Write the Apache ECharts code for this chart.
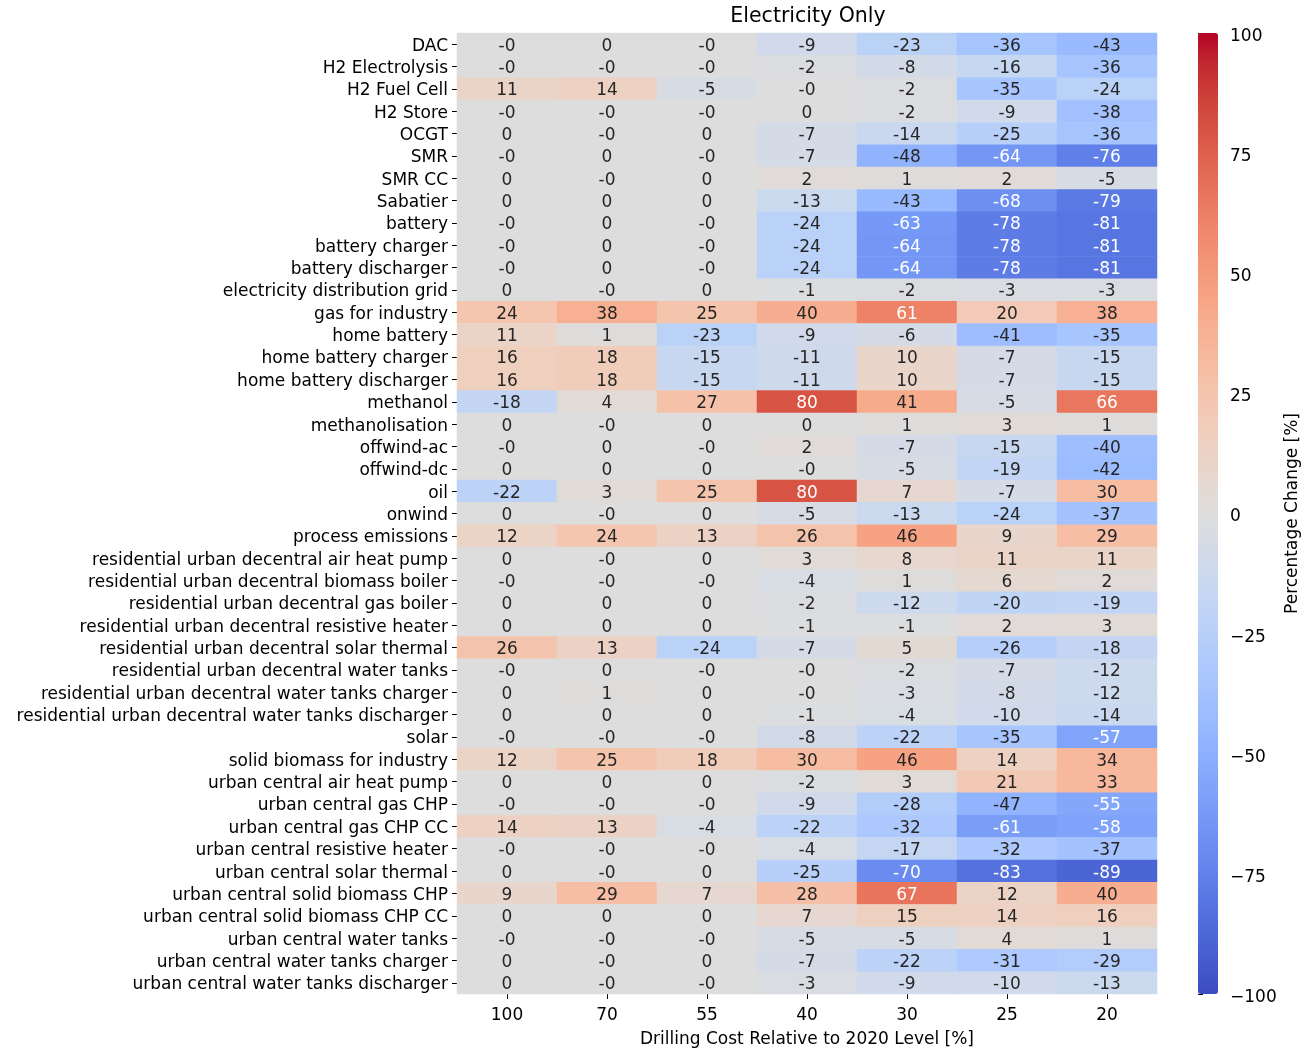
<!DOCTYPE html>
<html>
<head>
<meta charset="utf-8">
<script src="https://cdn.jsdelivr.net/npm/echarts@6/dist/echarts.min.js"></script>
<style>
  html, body { margin: 0; padding: 0; background: #fff; }
  #chart { width: 1311px; height: 1050px; }
</style>
</head>
<body>
<div id="chart"></div>
<script>
// drilling cost levels (x) and technologies (y)
const costLevels = ["100", "70", "55", "40", "30", "25", "20"];
const technologies = [
  "DAC", "H2 Electrolysis", "H2 Fuel Cell", "H2 Store", "OCGT", "SMR", "SMR CC",
  "Sabatier", "battery", "battery charger", "battery discharger",
  "electricity distribution grid", "gas for industry", "home battery",
  "home battery charger", "home battery discharger", "methanol", "methanolisation",
  "offwind-ac", "offwind-dc", "oil", "onwind", "process emissions",
  "residential urban decentral air heat pump", "residential urban decentral biomass boiler",
  "residential urban decentral gas boiler", "residential urban decentral resistive heater",
  "residential urban decentral solar thermal", "residential urban decentral water tanks",
  "residential urban decentral water tanks charger", "residential urban decentral water tanks discharger",
  "solar", "solid biomass for industry", "urban central air heat pump", "urban central gas CHP",
  "urban central gas CHP CC", "urban central resistive heater", "urban central solar thermal",
  "urban central solid biomass CHP", "urban central solid biomass CHP CC",
  "urban central water tanks", "urban central water tanks charger", "urban central water tanks discharger"
];
// percentage change per technology (row) and cost level (column); -0.1 shows as "-0"
const changes = [
  [-0.1, 0, -0.1, -9, -23, -36, -43],
  [-0.1, -0.1, -0.1, -2, -8, -16, -36],
  [11, 14, -5, -0.1, -2, -35, -24],
  [-0.1, -0.1, -0.1, 0, -2, -9, -38],
  [0, -0.1, 0, -7, -14, -25, -36],
  [-0.1, 0, -0.1, -7, -48, -64, -76],
  [0, -0.1, 0, 2, 1, 2, -5],
  [0, 0, 0, -13, -43, -68, -79],
  [-0.1, 0, -0.1, -24, -63, -78, -81],
  [-0.1, 0, -0.1, -24, -64, -78, -81],
  [-0.1, 0, -0.1, -24, -64, -78, -81],
  [0, -0.1, 0, -1, -2, -3, -3],
  [24, 38, 25, 40, 61, 20, 38],
  [11, 1, -23, -9, -6, -41, -35],
  [16, 18, -15, -11, 10, -7, -15],
  [16, 18, -15, -11, 10, -7, -15],
  [-18, 4, 27, 80, 41, -5, 66],
  [0, -0.1, 0, 0, 1, 3, 1],
  [-0.1, 0, -0.1, 2, -7, -15, -40],
  [0, 0, 0, -0.1, -5, -19, -42],
  [-22, 3, 25, 80, 7, -7, 30],
  [0, -0.1, 0, -5, -13, -24, -37],
  [12, 24, 13, 26, 46, 9, 29],
  [0, -0.1, 0, 3, 8, 11, 11],
  [-0.1, -0.1, -0.1, -4, 1, 6, 2],
  [0, 0, 0, -2, -12, -20, -19],
  [0, 0, 0, -1, -1, 2, 3],
  [26, 13, -24, -7, 5, -26, -18],
  [-0.1, 0, -0.1, -0.1, -2, -7, -12],
  [0, 1, 0, -0.1, -3, -8, -12],
  [0, 0, 0, -1, -4, -10, -14],
  [-0.1, -0.1, -0.1, -8, -22, -35, -57],
  [12, 25, 18, 30, 46, 14, 34],
  [0, 0, 0, -2, 3, 21, 33],
  [-0.1, -0.1, -0.1, -9, -28, -47, -55],
  [14, 13, -4, -22, -32, -61, -58],
  [-0.1, -0.1, -0.1, -4, -17, -32, -37],
  [0, -0.1, 0, -25, -70, -83, -89],
  [9, 29, 7, 28, 67, 12, 40],
  [0, 0, 0, 7, 15, 14, 16],
  [-0.1, -0.1, -0.1, -5, -5, 4, 1],
  [0, -0.1, 0, -7, -22, -31, -29],
  [0, -0.1, -0.1, -3, -9, -10, -13]
];

// matplotlib coolwarm
const coolwarm = [
  "#3b4cc0", "#445acc", "#4d68d7", "#5775e1", "#6282ea", "#6c8ef1", "#779af7", "#82a5fb",
  "#8db0fe", "#98b9ff", "#a3c2fe", "#aec9fd", "#b8d0f9", "#c2d5f4", "#ccd9ee", "#d5dbe6",
  "#dddddd", "#e5d8d1", "#ecd3c5", "#f1ccb9", "#f4c4ad", "#f7bba0", "#f7b194", "#f7a687",
  "#f49a7b", "#f18d6f", "#ec7f63", "#e57058", "#de604d", "#d55042", "#cb3e38", "#c0282f",
  "#b40426"
];

function hexRgb(h) {
  return [1, 3, 5].map(i => parseInt(h.substr(i, 2), 16));
}
// pick text colour like seaborn does (relative luminance of the cell)
function textColor(v) {
  let t = (Math.max(-100, Math.min(100, v)) + 100) / 200 * (coolwarm.length - 1);
  let i = Math.min(Math.floor(t), coolwarm.length - 2), f = t - i;
  let a = hexRgb(coolwarm[i]), b = hexRgb(coolwarm[i + 1]);
  let rgb = a.map((c, k) => (c + (b[k] - c) * f) / 255)
    .map(c => c <= 0.03928 ? c / 12.92 : Math.pow((c + 0.055) / 1.055, 2.4));
  let lum = 0.2126 * rgb[0] + 0.7152 * rgb[1] + 0.0722 * rgb[2];
  return lum > 0.408 ? "#262626" : "#ffffff";
}

const font = "DejaVu Sans";
let cells = [];
changes.forEach((row, r) => {
  row.forEach((v, c) => {
    cells.push({ value: [c, r, v], label: { color: textColor(v) } });
  });
});

let mychart = echarts.init(document.getElementById("chart"));
let option = {
  animation: false,
  textStyle: { fontFamily: font },
  graphic: [
    {
      type: "text",
      x: 808,
      y: 17,
      style: {
        text: "Electricity Only",
        fontFamily: font,
        fontSize: 20.5,
        fill: "#000",
        textAlign: "center",
        textVerticalAlign: "middle"
      }
    }
  ],
  grid: [
    { left: 457, top: 33, width: 700, height: 961, outerBoundsMode: "none" },
    { left: 1198, top: 33, width: 20, height: 961, outerBoundsMode: "none" }
  ],
  xAxis: [
    {
      type: "category",
      data: costLevels,
      gridIndex: 0,
      axisLine: { show: false },
      axisTick: { show: true, alignWithLabel: true, length: 5, lineStyle: { color: "#000" } },
      axisLabel: { color: "#000", fontSize: 17, margin: 13 },
      splitLine: { show: false },
      name: "Drilling Cost Relative to 2020 Level [%]",
      nameLocation: "middle",
      nameGap: 37,
      nameTextStyle: { color: "#000", fontSize: 17 }
    },
    { type: "value", gridIndex: 1, show: false, min: 0, max: 1 }
  ],
  yAxis: [
    {
      type: "category",
      data: technologies,
      inverse: true,
      gridIndex: 0,
      axisLine: { show: false },
      axisTick: { show: true, alignWithLabel: true, length: 5, lineStyle: { color: "#000" } },
      axisLabel: {
        color: "#000",
        fontSize: 17,
        margin: 9,
        interval: 0,
        verticalAlign: "top",
        lineHeight: 4
      },
      splitLine: { show: false }
    },
    {
      type: "value",
      gridIndex: 1,
      position: "right",
      min: -100,
      max: 100,
      interval: 25,
      axisLine: { show: false },
      axisTick: { show: true, length: 5, lineStyle: { color: "#000" } },
      axisLabel: {
        color: "#000",
        fontSize: 17,
        margin: 12,
        verticalAlign: "top",
        lineHeight: 7,
        formatter: v => (v < 0 ? "\u2212" + (-v) : String(v))
      },
      splitLine: { show: false },
      name: "Percentage Change [%]",
      nameLocation: "middle",
      nameRotate: 90,
      nameGap: 66,
      nameTextStyle: { color: "#000", fontSize: 17 }
    }
  ],
  visualMap: {
    type: "continuous",
    seriesIndex: 0,
    min: -100,
    max: 100,
    calculable: false,
    hoverLink: false,
    orient: "vertical",
    left: 1198,
    top: 33,
    padding: 0,
    itemWidth: 20,
    itemHeight: 961,
    text: ["", ""],
    inRange: { color: coolwarm }
  },
  series: [
    {
      type: "heatmap",
      xAxisIndex: 0,
      yAxisIndex: 0,
      data: cells,
      label: {
        show: true,
        fontSize: 17,
        fontFamily: font,
        offset: [0, 2],
        formatter: p => p.value[2].toFixed(0)
      },
      emphasis: { disabled: true }
    }
  ]
};
mychart.setOption(option);
</script>
</body>
</html>
